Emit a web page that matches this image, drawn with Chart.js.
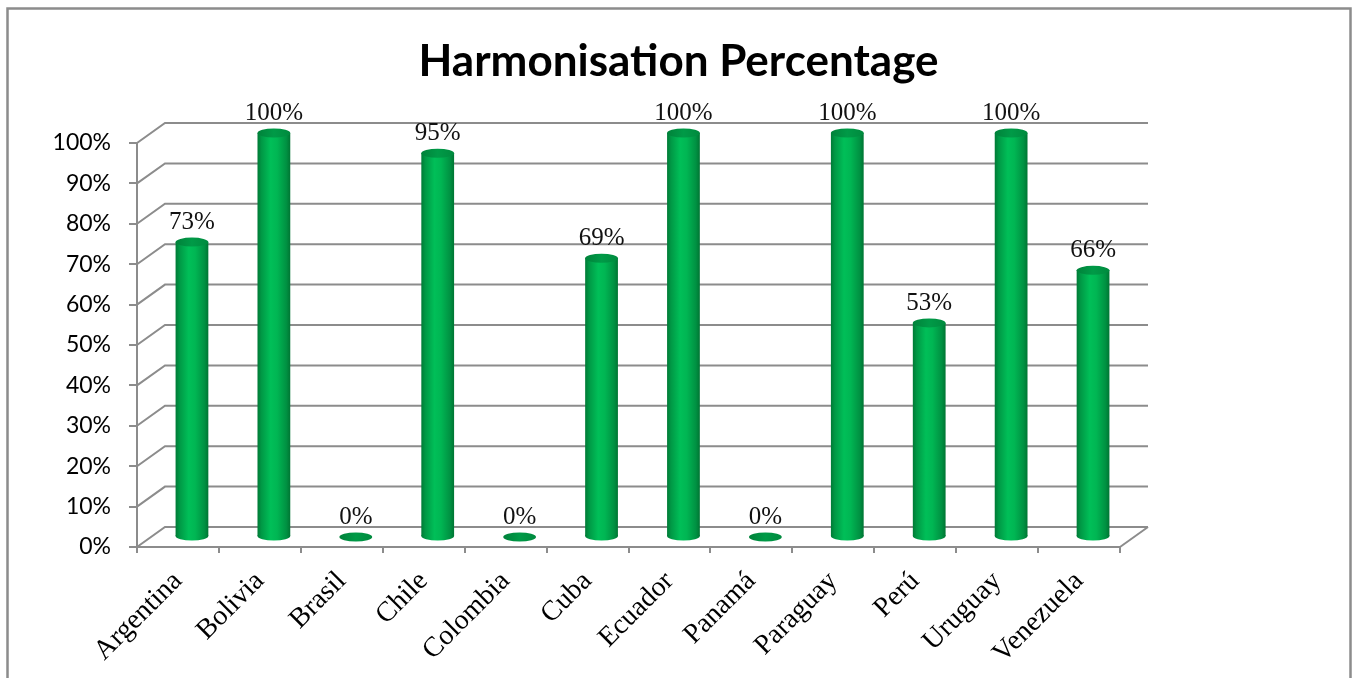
<!DOCTYPE html>
<html><head><meta charset="utf-8">
<script src="https://cdn.jsdelivr.net/npm/chart.js@4.4.1/dist/chart.umd.min.js"></script>
<style>html,body{margin:0;padding:0;background:#fff;overflow:hidden}canvas{display:block}</style>
</head><body>
<canvas id="c" width="1357" height="678"></canvas>
<script>
// ---- data ----
const categories = ['Argentina','Bolivia','Brasil','Chile','Colombia','Cuba','Ecuador','Panamá','Paraguay','Perú','Uruguay','Venezuela'];
const harmonisation = [0.73, 1.00, 0.00, 0.95, 0.00, 0.69, 1.00, 0.00, 1.00, 0.53, 1.00, 0.66];
const yTickValues = [0, 0.1, 0.2, 0.3, 0.4, 0.5, 0.6, 0.7, 0.8, 0.9, 1.0];
const chartTitle = 'Harmonisation Percentage';

// ---- style ----
const DX = 28, DY = 20;          // 3D depth offset of back wall
const BAR_FRACTION = 0.40;
const RY = 4.5;                  // cylinder ellipse radius
const GRID = '#8c8c8c';
const fmtPct = v => Math.round(v * 100) + '%';

function bodyGradient(c, cx, w) {
  const g = c.createLinearGradient(cx - w / 2, 0, cx + w / 2, 0);
  g.addColorStop(0.00, '#007a36');
  g.addColorStop(0.12, '#009845');
  g.addColorStop(0.40, '#00bf58');
  g.addColorStop(0.60, '#00b653');
  g.addColorStop(0.88, '#009142');
  g.addColorStop(1.00, '#007533');
  return g;
}

function barColor(ctx) {
  const chart = ctx.chart;
  const xs = chart.scales && chart.scales.x;
  if (!xs || !chart.chartArea) return '#00B050';
  const cx = xs.getPixelForValue(ctx.dataIndex);
  const w = xs.width / categories.length * BAR_FRACTION;
  return bodyGradient(chart.ctx, cx, w);
}

const frame = {
  id: 'frame',
  beforeDraw(chart) {
    const c = chart.ctx;
    c.save();
    c.strokeStyle = GRID;
    c.lineWidth = 2.5;
    c.strokeRect(7.5, 8.5, 1343, 720);
    c.restore();
  }
};

const threeD = {
  id: 'threeD',
  beforeDatasetsDraw(chart) {
    const c = chart.ctx;
    const { left, right, bottom } = chart.chartArea;
    const ys = chart.scales.y;
    c.save();
    c.strokeStyle = GRID;
    c.lineWidth = 2;
    ys.ticks.forEach(t => {
      const y = ys.getPixelForValue(t.value);
      c.beginPath();
      c.moveTo(left, y);
      c.lineTo(left + DX, y - DY);
      c.lineTo(right + DX, y - DY);
      c.stroke();
    });
    c.beginPath();
    c.moveTo(right, bottom);
    c.lineTo(right + DX, bottom - DY);
    c.stroke();
    c.restore();
    c.save();
    c.translate(DX / 2, -DY / 2);
  },
  afterDatasetsDraw(chart) {
    const c = chart.ctx;
    const meta = chart.getDatasetMeta(0);
    meta.data.forEach((el, i) => {
      const w = el.width;
      const v = harmonisation[i];
      if (v > 0) {
        c.beginPath();
        c.ellipse(el.x, el.base, w / 2, RY, 0, 0, Math.PI * 2);
        c.fillStyle = bodyGradient(c, el.x, w);
        c.fill();
      }
      const tg = c.createLinearGradient(el.x - w / 2, 0, el.x + w / 2, 0);
      tg.addColorStop(0, '#00823a');
      tg.addColorStop(0.5, '#009a47');
      tg.addColorStop(1, '#008a3e');
      c.beginPath();
      c.ellipse(el.x, el.y, w / 2, RY, 0, 0, Math.PI * 2);
      c.fillStyle = tg;
      c.fill();
      // value label
      c.fillStyle = '#111';
      c.font = '25px "Liberation Serif", serif';
      c.textAlign = 'center';
      c.textBaseline = 'alphabetic';
      c.fillText(fmtPct(v), el.x, el.y - 13);
    });
    c.restore();
  }
};

new Chart(document.getElementById('c'), {
  type: 'bar',
  data: {
    labels: categories,
    datasets: [{
      data: harmonisation,
      backgroundColor: barColor,
      borderWidth: 0,
      barPercentage: BAR_FRACTION,
      categoryPercentage: 1,
      clip: false
    }]
  },
  options: {
    responsive: false,
    animation: false,
    events: [],
    layout: { padding: { left: 0, right: 0, top: 0, bottom: 0 } },
    plugins: {
      legend: { display: false },
      tooltip: { enabled: false },
      title: {
        display: true,
        text: chartTitle,
        color: '#000',
        font: { family: 'Lato', size: 44, weight: 'bold', lineHeight: 1.2 },
        padding: { top: 35, bottom: 55.2 }
      }
    },
    scales: {
      x: {
        grid: { display: true, drawOnChartArea: false, drawTicks: true, tickLength: 6, color: GRID, lineWidth: 2, offset: true },
        border: { display: true, color: GRID, width: 2 },
        ticks: {
          autoSkip: false, maxRotation: 45, minRotation: 45, padding: 12,
          color: '#000', font: { family: '"Liberation Serif"', size: 28 }
        },
        afterFit(s) { s.height = 131; }
      },
      y: {
        min: 0, max: 1,
        afterBuildTicks(s) { s.ticks = yTickValues.map(v => ({ value: v })); },
        grid: { display: true, drawOnChartArea: false, drawTicks: true, tickLength: 8, color: GRID, lineWidth: 2 },
        border: { display: true, color: GRID, width: 2 },
        ticks: { padding: 18, color: '#000', font: { family: 'Lato', size: 23 }, callback: v => fmtPct(v) },
        afterFit(s) { s.width = 137; }
      },
      yRight: {
        type: 'linear', position: 'right', display: true,
        ticks: { display: false }, grid: { display: false }, border: { display: false },
        afterFit(s) { s.width = 237; }
      }
    }
  },
  plugins: [frame, threeD]
});
</script>
</body></html>
